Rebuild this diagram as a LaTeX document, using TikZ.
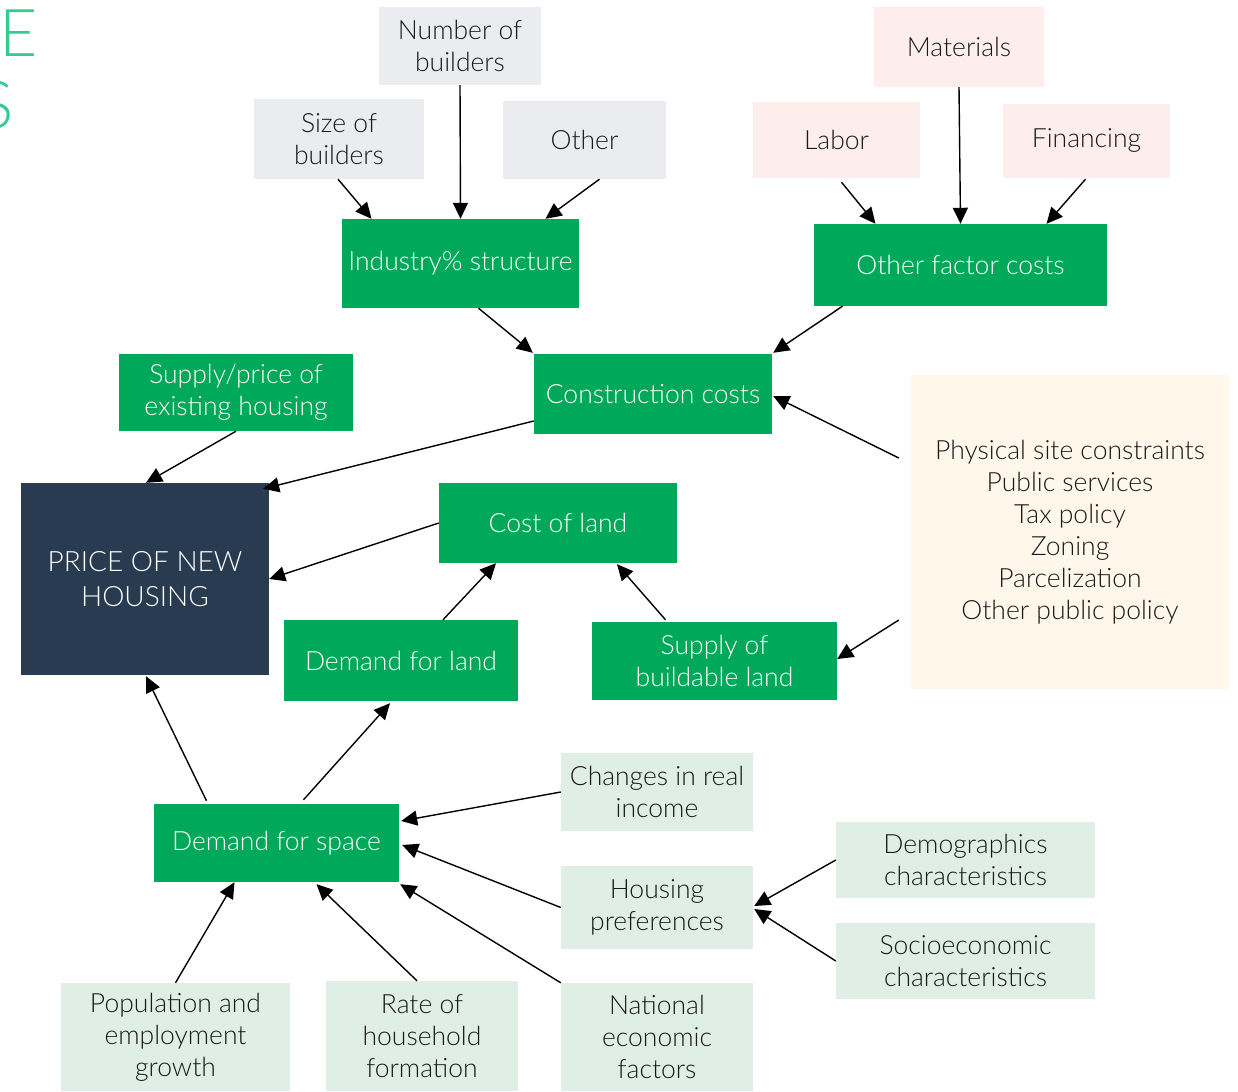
\documentclass[tikz,border=0pt]{standalone}
\usepackage{fontspec}
\setmainfont{Lato Light}
\usetikzlibrary{arrows.meta,calc}
\definecolor{cgreen}{HTML}{00A859}
\definecolor{cnavy}{HTML}{283B51}
\definecolor{cgray}{HTML}{EBECF0}
\definecolor{cpink}{HTML}{FDEEEB}
\definecolor{clgreen}{HTML}{E0EFE6}
\definecolor{ccream}{HTML}{FEF7EA}
\definecolor{ctitle}{HTML}{33CC90}
\definecolor{cink}{HTML}{1A1A1A}
\begin{document}
\begin{tikzpicture}[x=1pt,y=-1pt,
  box/.style 2 args={rectangle, inner sep=0pt, align=center,
    minimum width=#1pt, minimum height=#2pt,
    font=\fontsize{26.5}{32}\selectfont},
  keybox/.style={fill=cgreen, text=white},
  graybox/.style={fill=cgray, text=cink},
  pinkbox/.style={fill=cpink, text=cink},
  lgbox/.style={fill=clgreen, text=cink},
  creambox/.style={fill=ccream, text=cink},
  navybox/.style={fill=cnavy, text=white, font=\fontsize{28}{35}\selectfont},
  arr/.style={-{Triangle[length=16pt,width=15pt]}, line width=1.4pt, draw=black},
  title/.style={anchor=east, inner sep=0pt, text=ctitle, font=\fontsize{66}{70}\selectfont}]
\useasboundingbox (0,0) rectangle (1238,1091);
\fill[white] (0,0) rectangle (1238,1091);

% title letters running off the left edge
\node[title] (t1) at (38,33) {TE};
\node[title] (t2) at (14,105) {S};

% industry structure inputs
\node[box={162}{78}, graybox] (nob) at (460,46) {Number of\\builders};
\node[box={170}{80}, graybox] (sob) at (339,139) {Size of\\builders};
\node[box={163}{78}, graybox] (oth) at (584.5,140) {Other};
\node[box={237}{89}, keybox] (ind) at (460.5,263.5) {Industry\% structure};

% factor cost inputs
\node[box={170}{80}, pinkbox] (mat) at (959,47) {Materials};
\node[box={167}{76}, pinkbox] (lab) at (836.5,140) {Labor};
\node[box={167}{74}, pinkbox] (fin) at (1086.5,141) {Financing};
\node[box={293}{82}, keybox] (ofc) at (960.5,265) {Other factor costs};

% middle layer
\node[box={238}{80}, keybox] (cc) at (653,394) {Construction costs};
\node[box={234}{77}, keybox] (spe) at (236,392.5) {Supply/price of\\existing housing};
\node[box={248}{192}, navybox] (price) at (145,579) {PRICE OF NEW\\HOUSING};
\node[box={238}{80}, keybox] (col) at (558,523) {Cost of land};
\node[box={234}{81}, keybox] (dfl) at (401,660.5) {Demand for land};
\node[box={245}{78}, keybox] (sbl) at (714.5,661) {Supply of\\buildable land};
\node[box={318}{314}, creambox] (phys) at (1070,532) {Physical site constraints\\Public services\\Tax policy\\Zoning\\Parcelization\\Other public policy};

% demand side
\node[box={245}{78}, keybox] (dfs) at (276.5,843) {Demand for space};
\node[box={192}{78}, lgbox] (chg) at (657,792) {Changes in real\\income};
\node[box={192}{83}, lgbox] (hp) at (657,907.5) {Housing\\preferences};
\node[box={192}{108}, lgbox] (nef) at (657,1037) {National\\economic\\factors};
\node[box={192}{110}, lgbox] (rhf) at (422,1036) {Rate of\\household\\formation};
\node[box={229}{108}, lgbox] (pop) at (175.5,1037) {Population and\\employment\\growth};
\node[box={259}{76}, lgbox] (dem) at (965.5,860) {Demographics\\characteristics};
\node[box={259}{76}, lgbox] (soc) at (965.5,961) {Socioeconomic\\characteristics};

% connectors into industry structure
\draw[arr] ($(sob.south)+(-1,0)$) -- ($(ind.north)+(-89,0)$);
\draw[arr] (nob.south) -- (ind.north);
\draw[arr] ($(oth.south)+(15,0)$) -- ($(ind.north)+(85,0)$);

% connectors into other factor costs
\draw[arr] ($(lab.south)+(5,4)$) -- ($(ofc.north)+(-85,0)$);
\draw[arr] (mat.south) -- (ofc.north);
\draw[arr] ($(fin.south)+(-1,1)$) -- ($(ofc.north)+(86,0)$);

% into construction costs
\draw[arr] ($(ind.south)+(18,0)$) -- ($(cc.north west)+(-1,-1)$);
\draw[arr] ($(ofc.south)+(-118,0)$) -- ($(cc.north east)+(1,-1)$);
\draw[arr] ($(phys.west)+(-12,-74)$) -- ($(cc.east)+(1,2)$);

% into price of new housing
\draw[arr] (spe.south) -- ($(price.north)+(1,0)$);
\draw[arr] ($(cc.west)+(0,27)$) -- ($(price.north east)+(-6,6)$);
\draw[arr] (col.west) -- (price.east);
\draw[arr] ($(dfs.north)+(-70,-3)$) -- ($(price.south)+(1,1)$);

% land market
\draw[arr] ($(dfl.north)+(42,0)$) -- ($(col.south)+(-62,0)$);
\draw[arr] ($(sbl.north)+(-49,-2)$) -- ($(col.south)+(59,1)$);
\draw[arr] ($(phys.west)+(-12,88)$) -- ($(sbl.east)+(0,-2)$);
\draw[arr] ($(dfs.north)+(27,-4)$) -- ($(dfl.south)+(-11,2)$);

% drivers of demand for space
\draw[arr] (chg.west) -- ($(dfs.east)+(2,-22)$);
\draw[arr] (hp.west) -- ($(dfs.east)+(3,2)$);
\draw[arr] (nef.north west) -- ($(dfs.south east)+(1,2)$);
\draw[arr] ($(rhf.north)+(-5,0)$) -- ($(dfs.south)+(40,2)$);
\draw[arr] (pop.north) -- ($(dfs.south)+(-42,0)$);

% drivers of housing preferences
\draw[arr] (dem.west) -- ($(hp.east)+(1,-1.5)$);
\draw[arr] (soc.west) -- ($(hp.east)+(1,1.5)$);
\end{tikzpicture}
\end{document}
